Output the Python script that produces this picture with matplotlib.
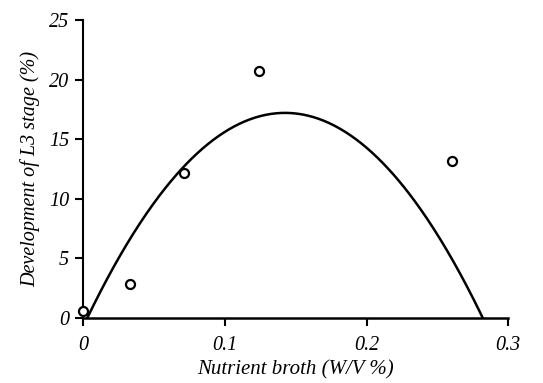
import numpy as np
import matplotlib.pyplot as plt

# observed points
broth = [0.0, 0.033, 0.071, 0.124, 0.26]
dev_l3 = [0.6, 2.85, 12.15, 20.7, 13.2]

# fitted quadratic: roots and peak height
fit_roots = [0.003, 0.282]
fit_peak = 17.2

xticks = [0, 0.1, 0.2, 0.3]
xticklabels = ['0', '0.1', '0.2', '0.3']
yticks = [0, 5, 10, 15, 20, 25]

plt.rcParams['font.family'] = ['Liberation Serif', 'DejaVu Serif']
plt.rcParams['font.style'] = 'italic'

fig = plt.figure(figsize=(5.43, 3.83), dpi=100)
ax = fig.add_axes([0.153, 0.170, 0.783, 0.778])

r1, r2 = fit_roots
mid = (r1 + r2) / 2
a = fit_peak / ((mid - r1) * (r2 - mid))
xs = np.linspace(r1, r2, 300)
ax.plot(xs, a * (xs - r1) * (r2 - xs), color='black', lw=1.8)

ax.plot(broth, dev_l3, 'o', mfc='white', mec='black', mew=1.6, ms=6.5,
        clip_on=False, zorder=3)

ax.set_xlim(0, 0.3)
ax.set_ylim(0, 25)
ax.set_xticks(xticks)
ax.set_xticklabels(xticklabels)
ax.set_yticks(yticks)
ax.spines['top'].set_visible(False)
ax.spines['right'].set_visible(False)
ax.spines['left'].set_linewidth(1.5)
ax.spines['bottom'].set_linewidth(1.8)
ax.tick_params(direction='out', length=6, width=1.5, labelsize=14.5, pad=4)
ax.tick_params(axis='x', pad=7)

ax.set_xlabel('Nutrient broth (W/V %)', fontsize=15, labelpad=4)
ax.set_ylabel('Development of L3 stage (%)', fontsize=14.5, labelpad=6)

fig.savefig('out.png', dpi=100)
